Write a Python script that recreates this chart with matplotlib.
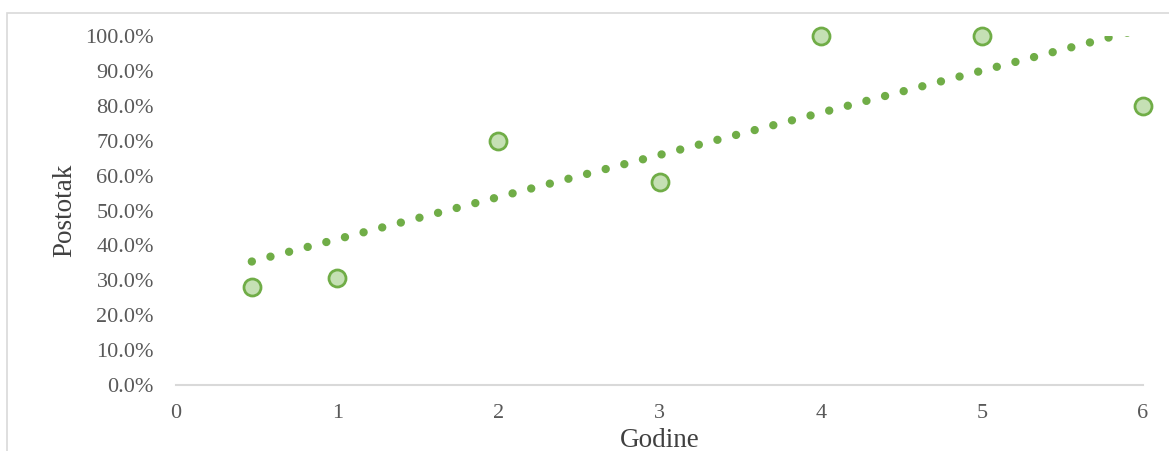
import matplotlib.pyplot as plt
from matplotlib.patches import Rectangle
import numpy as np

# data
godine = [0.47, 1, 2, 3, 4, 5, 6]
postotak = [0.28, 0.308, 0.70, 0.583, 1.0, 1.0, 0.80]
y_ticks = [i / 10 for i in range(11)]
x_ticks = [0, 1, 2, 3, 4, 5, 6]

plt.rcParams['font.family'] = ['Liberation Serif', 'DejaVu Serif']

fig = plt.figure(figsize=(11.69, 4.51), dpi=100)
ax = fig.add_axes([0.1506, 0.1463, 0.8272, 0.7739])

# linear trendline
k, n = np.polyfit(godine, postotak, 1)
tx = np.array([min(godine), max(godine)])
ax.plot(tx, k * tx + n, color='#70AD47', linewidth=6,
        linestyle=(0, (0.01, 2.3)), dash_capstyle='round', zorder=2)

ax.scatter(godine, postotak, s=150, facecolor='#C5E0B4', edgecolor='#70AD47',
           linewidth=2, zorder=3, clip_on=False)

ax.set_xlim(0, 6)
ax.set_ylim(0, 1)
ax.set_xticks(x_ticks)
ax.set_yticks(y_ticks)
ax.set_yticklabels(['%.1f%%' % (v * 100) for v in y_ticks])
ax.tick_params(length=0, labelsize=16, colors='#595959')
ax.tick_params(axis='y', pad=16)
ax.tick_params(axis='x', pad=14)

for s in ['top', 'right', 'left']:
    ax.spines[s].set_visible(False)
ax.spines['bottom'].set_color('#D9D9D9')
ax.spines['bottom'].set_linewidth(1.5)

ax.set_xlabel('Godine', fontsize=19.5, color='#404040', labelpad=3)
ax.set_ylabel('Postotak', fontsize=19.5, color='#404040', labelpad=6)

# outer chart frame
fig.patches.append(Rectangle((7 / 1169, -0.1), 1.2, 1 - 13 / 451 + 0.1,
                             transform=fig.transFigure, fill=False,
                             edgecolor='#D9D9D9', linewidth=1.2))

fig.savefig('out.png', dpi=100)
